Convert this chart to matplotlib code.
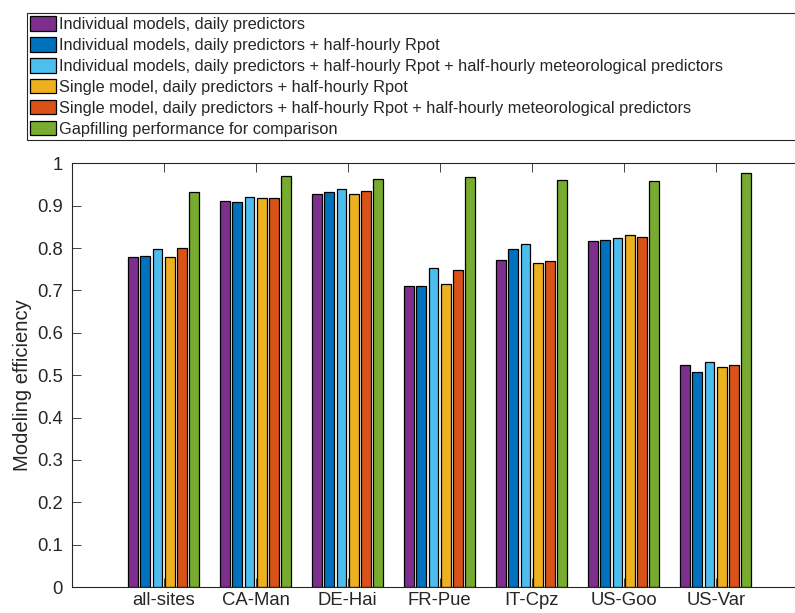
import matplotlib
matplotlib.use("Agg")
import matplotlib.pyplot as plt
from matplotlib.patches import Patch
import numpy as np

plt.rcParams['font.family'] = ['Liberation Sans', 'DejaVu Sans']

sites = ["all-sites", "CA-Man", "DE-Hai", "FR-Pue", "IT-Cpz", "US-Goo", "US-Var"]
series_labels = [
    "Individual models, daily predictors",
    "Individual models, daily predictors + half-hourly Rpot",
    "Individual models, daily predictors + half-hourly Rpot + half-hourly meteorological predictors",
    "Single model, daily predictors + half-hourly Rpot",
    "Single model, daily predictors + half-hourly Rpot + half-hourly meteorological predictors",
    "Gapfilling performance for comparison",
]
ind_daily = [0.778, 0.910, 0.928, 0.711, 0.772, 0.817, 0.524]
ind_rpot = [0.781, 0.908, 0.932, 0.710, 0.797, 0.819, 0.508]
ind_rpot_met = [0.798, 0.921, 0.939, 0.752, 0.810, 0.823, 0.531]
single_rpot = [0.780, 0.917, 0.928, 0.715, 0.764, 0.830, 0.520]
single_rpot_met = [0.799, 0.917, 0.935, 0.748, 0.770, 0.826, 0.524]
gapfill = [0.933, 0.971, 0.964, 0.967, 0.961, 0.958, 0.978]
series = [ind_daily, ind_rpot, ind_rpot_met, single_rpot, single_rpot_met, gapfill]
colors = ["#7E2F8E", "#0072BD", "#4DBEEE", "#EDB120", "#D95319", "#77AC30"]
yticks = [0, 0.1, 0.2, 0.3, 0.4, 0.5, 0.6, 0.7, 0.8, 0.9, 1]
ytick_labels = ["0", "0.1", "0.2", "0.3", "0.4", "0.5", "0.6", "0.7", "0.8", "0.9", "1"]

W, H = 795, 613
fig = plt.figure(figsize=(W / 100, H / 100), dpi=100)
ax_left, ax_right, ax_top, ax_bot = 71.7, 807.7, 163.3, 587.0
ax = fig.add_axes([ax_left / W, 1 - ax_bot / H, (ax_right - ax_left) / W, (ax_bot - ax_top) / H])

tc = "#262626"
n = len(series)
x = np.arange(1, len(sites) + 1)
pitch = 0.8 / n
bw = pitch * 0.8
for i, (vals, c) in enumerate(zip(series, colors)):
    ax.bar(x + (i - (n - 1) / 2) * pitch, vals, width=bw, color=c,
           edgecolor="black", linewidth=0.9, zorder=2)

ax.set_xlim(0, 8)
ax.set_ylim(0, 1)
ax.set_xticks(x)
ax.set_xticklabels(sites)
ax.set_yticks(yticks)
ax.set_yticklabels(ytick_labels)
ax.tick_params(axis="both", direction="in", length=6.2, width=0.6, colors=tc,
               labelsize=13.3, pad=6.5, top=True, right=False)
ax.tick_params(axis="x", pad=3.9)
for s in ax.spines.values():
    s.set_color(tc)
    s.set_linewidth(0.8)
ax.set_axisbelow(False)

fig.text(22.5 / W, 1 - 385 / H, "Modeling efficiency", rotation=90,
         ha="center", va="center", fontsize=14.6, color=tc)

handles = [Patch(facecolor=c, edgecolor="black", linewidth=0.9) for c in colors]
leg = fig.legend(handles, series_labels, loc="upper left",
                 bbox_to_anchor=(26.7 / W, 0.0, 1.0, 1 - 12.7 / H),
                 mode="expand", borderaxespad=0, fontsize=11.75,
                 handlelength=1.6, handleheight=0.97, handletextpad=0.15,
                 labelspacing=0.32, borderpad=0.22, fancybox=False,
                 framealpha=1, edgecolor=tc)
leg.get_frame().set_linewidth(0.8)
for t in leg.get_texts():
    t.set_color(tc)

fig.savefig("out.png", dpi=100)
